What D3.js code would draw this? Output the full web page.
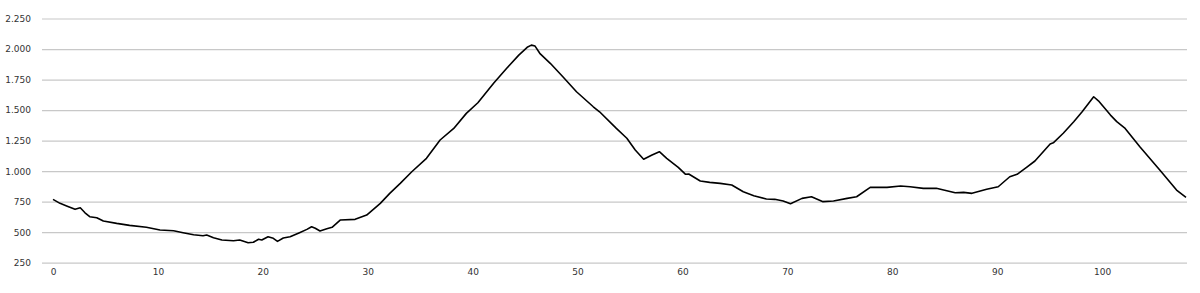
<!DOCTYPE html>
<html>
<head>
<meta charset="utf-8">
<script src="https://cdn.jsdelivr.net/npm/d3@7"></script>
<style>
  body { margin: 0; background: #fff; }
  svg { display: block; }
  .tick text { font-family: "DejaVu Sans", sans-serif; font-size: 9px; fill: #333; }
</style>
</head>
<body>
<script>
const w = 1200,
  h = 293;

// distance (km) and elevation (m)
const km = [
  0, 0.67, 1.3, 2.1, 2.6, 3.05, 3.5, 4.17, 4.8, 6.07, 7.3, 8.9, 10.2, 11.5, 12.4,
  13.4, 14.3, 14.65, 15.3, 16.1, 17.2, 17.8, 18.6, 19.1, 19.6, 19.9, 20.5, 21.0,
  21.4, 21.95, 22.6, 23.5, 24.2, 24.65, 25.0, 25.45, 26.1, 26.6, 27.4, 28.8, 29.9,
  31.2, 32.1, 33.1, 34.2, 35.6, 36.9, 38.2, 39.4, 40.5, 42.0, 43.25, 44.4, 45.2,
  45.6, 45.95, 46.4, 47.4, 48.6, 49.9, 51.5, 52.1, 53.7, 54.7, 55.5, 56.3, 57.1,
  57.8, 58.5, 59.6, 60.3, 60.6, 61.7, 62.6, 63.6, 64.7, 65.8, 66.8, 68.0, 68.8,
  69.6, 70.3, 71.4, 72.3, 73.4, 74.4, 75.7, 76.6, 77.9, 79.5, 80.8, 81.7, 82.96,
  84.2, 86.0, 86.8, 87.6, 89.0, 90.1, 91.2, 91.9, 92.8, 93.6, 95.05, 95.35, 96.3,
  97.3, 98.1, 99.2, 99.65, 100.8, 101.4, 102.2, 103.6, 105.5, 107.1, 108.0
];
const elev = [
  769, 736, 714, 687, 700, 659, 627, 618, 591, 572, 556, 540, 518, 512, 496,
  479, 471, 477, 455, 436, 430, 436, 414, 417, 442, 436, 463, 450,
  425, 452, 463, 496, 523, 545, 532, 510, 528, 540, 600, 605, 640,
  736, 818, 900, 995, 1105, 1255, 1350, 1473, 1560, 1719, 1842, 1950, 2014,
  2032, 2024, 1965, 1883, 1773, 1650, 1527, 1486, 1350, 1269, 1173, 1097, 1132,
  1159, 1105, 1031, 974, 976, 919, 908, 900, 886, 831, 799, 772, 769,
  755, 733, 777, 790, 750, 755, 777, 790, 867, 867, 878, 872, 859,
  859, 823, 826, 818, 851, 872, 954, 974, 1031, 1083, 1222, 1232, 1310,
  1405, 1486, 1609, 1576, 1459, 1405, 1350, 1200, 1009, 845, 785
];

const yTicks = [250, 500, 750, 1000, 1250, 1500, 1750, 2000, 2250];
const xTicks = [0, 10, 20, 30, 40, 50, 60, 70, 80, 90, 100];

const data = km.map((d, i) => ({ km: d, elev: elev[i] }));

const gridLeft = 42,
  gridRight = 1187;

const xScale = d3.scaleLinear().domain([0, 108]).range([53, 1186]);
const yScale = d3.scaleLinear().domain([250, 2250]).range([262.7, 18.5]);

const locale = d3.formatLocale({ decimal: ',', thousands: '.', grouping: [3], currency: ['', '€'] });
const fmt = locale.format(',d');

const svg = d3
  .select('body')
  .append('svg')
  .attr('width', w)
  .attr('height', h);

// horizontal grid + y labels
const yAxis = d3
  .axisLeft(yScale)
  .tickValues(yTicks)
  .tickFormat(fmt)
  .tickSize(-(gridRight - gridLeft))
  .tickPadding(11);

svg
  .append('g')
  .attr('transform', `translate(${gridLeft}, 0)`)
  .call(yAxis)
  .call(g => g.select('.domain').remove())
  .call(g => g.selectAll('.tick line').attr('stroke', '#c8c8c8').attr('stroke-width', 1.2));

// x labels
const xAxis = d3
  .axisBottom(xScale)
  .tickValues(xTicks)
  .tickFormat(d3.format('d'))
  .tickSize(0)
  .tickPadding(6);

svg
  .append('g')
  .attr('transform', `translate(0, ${yScale(250)})`)
  .call(xAxis)
  .call(g => g.select('.domain').remove());

const line = d3
  .line()
  .x(d => xScale(d.km))
  .y(d => yScale(d.elev));

svg
  .append('path')
  .datum(data)
  .attr('fill', 'none')
  .attr('stroke', '#000')
  .attr('stroke-width', 1.6)
  .attr('stroke-linejoin', 'round')
  .attr('d', line);
</script>
</body>
</html>
